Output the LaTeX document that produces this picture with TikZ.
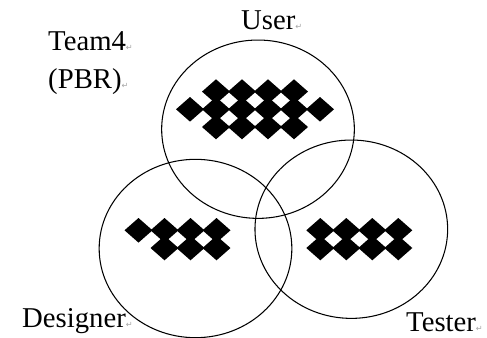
\documentclass[tikz,border=0pt]{standalone}
\usepackage{fontspec}
\setmainfont{Liberation Serif}
\newfontfamily\marksfont{DejaVu Sans}
\usetikzlibrary{shapes.geometric}

\newcommand\pmark{\textcolor{black!35}{\fontsize{7}{7}\selectfont\marksfont ↵}}

\begin{document}
\begin{tikzpicture}[x=0.03cm, y=-0.03cm,
  role/.style={draw, ellipse, line width=0.9pt, minimum width=5.78cm, minimum height=5.35cm, inner sep=0pt},
  lbl/.style={anchor=base west, inner sep=0pt, font=\rmfamily\fontsize{24.5}{29}\selectfont},
  cell/.style={fill=black}
]
\useasboundingbox (0,0) rectangle (487,337);

\node[role] (user) at (258,129.2) {};
\node[role] (designer) at (195.5,248.5) {};
\node[role] (tester) at (351.3,229.2) {};

\node[lbl] (userlbl) at (241,29) {User\pmark};
\node[lbl] (team) at (48,50) {Team4\pmark};
\node[lbl] (pbr) at (48,88) {(PBR)\pmark};
\node[lbl] (designerlbl) at (22,327) {Designer\pmark};
\node[lbl] (testerlbl) at (406,331) {Tester\pmark};

\foreach \y/\first/\last in {91.6/1/4,109.3/0/5,127/1/4}
  \foreach \k in {\first,...,\last}
    \fill[cell] ({190+26*\k},\y) +(-14,0) -- +(0,-12.3) -- +(14,0) -- +(0,12.3) -- cycle;

\foreach \y/\first/\last in {230.3/0/3,248/1/3}
  \foreach \k in {\first,...,\last}
    \fill[cell] ({138.5+26*\k},\y) +(-14,0) -- +(0,-12.3) -- +(14,0) -- +(0,12.3) -- cycle;

\foreach \y in {230.3,248}
  \foreach \k in {0,...,3}
    \fill[cell] ({320.3+26*\k},\y) +(-14,0) -- +(0,-12.3) -- +(14,0) -- +(0,12.3) -- cycle;
\end{tikzpicture}
\end{document}
